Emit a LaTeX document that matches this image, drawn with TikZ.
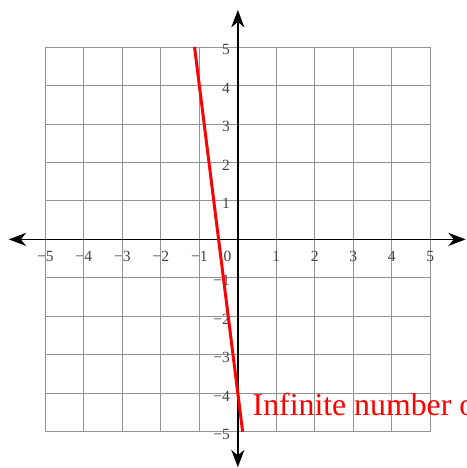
\documentclass[tikz,border=0pt]{standalone}
\usepackage{fontspec}
\setmainfont{Liberation Serif}
\usetikzlibrary{arrows.meta}
\definecolor{lbl}{HTML}{444444}
\tikzset{
  gridline/.style={draw=gray!85, line width=0.6pt},
  axisline/.style={draw=black, line width=1.1pt, {Stealth[length=0.45cm,width=0.34cm,inset=0.14cm]}-{Stealth[length=0.45cm,width=0.34cm,inset=0.14cm]}},
  ticklbl/.style={text=lbl, font=\fontsize{11.5}{12}\selectfont, inner sep=0pt},
  redline/.style={draw=red, line width=2.2pt},
  redlbl/.style={text=red, font=\fontsize{23.5}{26}\selectfont, inner sep=0pt, anchor=base west}
}
\begin{document}
\begin{tikzpicture}
\clip (-6.18,-5.94) rectangle (5.95,6.22);
\fill[white] (-6.18,-5.94) rectangle (5.95,6.22);
\draw[gridline] (-5,-5) grid (5,5);
\coordinate (xl) at (-5.95,0);
\coordinate (xr) at (5.92,0);
\coordinate (yb) at (0,-5.92);
\coordinate (yt) at (0,5.96);
\draw[axisline] (xl) -- (xr);
\draw[axisline] (yb) -- (yt);
\foreach \i in {1,2,3,4,5} {
  \node[ticklbl] (xlabm\i) at (-\i,-0.45) {\textminus\i};
  \node[ticklbl] (xlab\i) at (\i,-0.45) {\i};
  \node[ticklbl, anchor=east] (ylab\i) at (-0.2,\i-0.07) {\i};
  \node[ticklbl, anchor=east] (ylabm\i) at (-0.2,-\i-0.07) {\textminus\i};
}
\node[ticklbl] (origin) at (-0.27,-0.45) {0};
\coordinate (ra) at (-1.125,5);
\coordinate (rb) at (0.125,-5);
\draw[redline] (ra) -- (rb);
\node[redlbl] (txt) at (0.38,-4.58) {Infinite number of solutions};
\end{tikzpicture}
\end{document}
